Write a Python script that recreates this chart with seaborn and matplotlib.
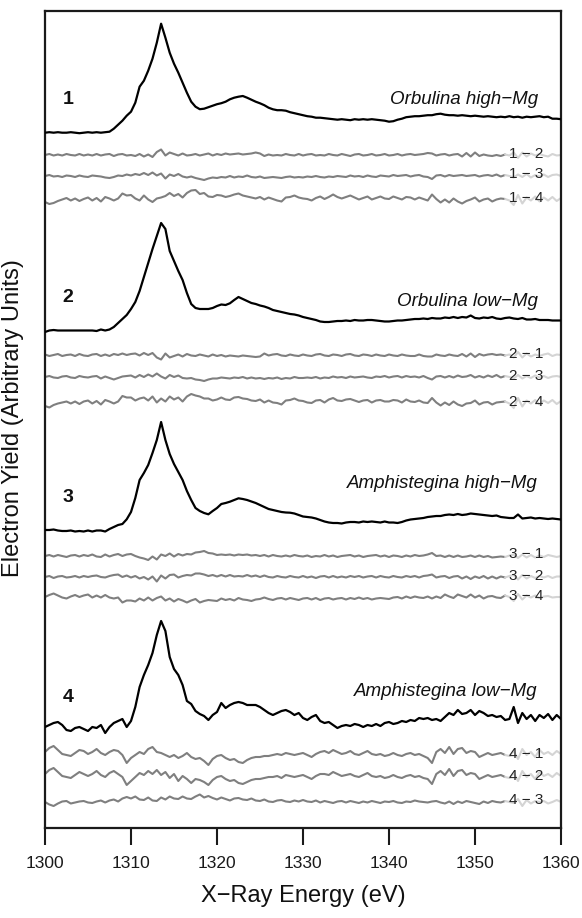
import numpy as np
import pandas as pd
import matplotlib
matplotlib.use("Agg")
import matplotlib.pyplot as plt
import seaborn as sns

# ---------------- data ----------------
energy = np.arange(1300, 1360.001, 0.5)  # eV grid, 121 points

# black spectra: height above pre-edge level (arbitrary units)
spec_1 = [0, 0.5, 0, 0.5, 0, 0, 0.5, 0, -0.5, 0,
          0.5, 0, 0.5, 0, 0.5, 1, 4, 8, 12, 17,
          21, 30, 46, 52, 62, 74, 90, 109, 95, 80,
          69, 60, 50, 40, 31, 26, 23.5, 24, 25.5, 27,
          28.5, 29.5, 31, 33.4, 35, 36, 36.7, 35, 33, 31,
          29.4, 27.5, 25, 23.4, 22.5, 22.5, 22, 20.5, 19.5, 18.5,
          17.5, 16.5, 16, 15, 15, 14.5, 14, 13.5, 13, 13.5,
          13, 12.5, 13.5, 13, 13.5, 13, 13.5, 13, 12.5, 12,
          11, 11.5, 13, 14, 15.5, 16, 16.5, 16.5, 17, 17.5,
          17.5, 18.5, 19, 18, 17.5, 17.5, 17, 17.5, 17, 16.5,
          17, 16.5, 16, 16.5, 16, 15.5, 16, 15.5, 16.5, 15.5,
          16, 15, 16, 15.5, 16, 16.5, 15.5, 16, 14, 14,
          13.5]
spec_2 = [-1, 0.5, 1, 0.5, 0.5, 0.5, 0.5, 0.5, 0.5, 0.5,
          0.5, 0.5, 0, 1.5, 0.5, 1.5, 4, 8, 12, 16,
          22, 29, 40, 54, 68, 82, 95, 108, 102, 80,
          70, 60, 51, 38, 27, 23, 22, 22, 22, 23,
          25, 26.5, 26, 27.7, 31, 34, 32, 30, 28, 27,
          25.5, 24.5, 23, 21, 20, 19, 18, 17, 16.5, 15.5,
          14, 13, 12, 11, 9.5, 9, 9, 9.5, 10, 10,
          10.5, 10, 11, 10.5, 10.5, 11, 11, 10.5, 10, 9.5,
          9.5, 10, 10.5, 10.5, 11, 11.5, 12, 12, 12.5, 12,
          13, 12.5, 12.5, 13.5, 13, 14, 13, 14, 13.5, 15.5,
          13, 12.5, 13.5, 13, 14, 12.5, 12, 13, 13.5, 12.5,
          12, 13, 11.5, 11.5, 12, 11, 11, 11, 10.5, 10.5,
          10.5]
spec_3 = [0, 0, 0.5, -0.5, -1, -1, -0.5, -1.5, -1, -1.5,
          -0.5, -1.5, -0.5, -0.5, -1.5, 1, 3, 5, 6, 10.7,
          18, 32, 50, 57, 65, 77, 90, 108, 90, 76,
          66, 58, 50, 39, 30, 22, 19, 17, 15.7, 19,
          22, 26, 27, 28.3, 30, 31.7, 31, 30, 28.5, 27,
          25, 23, 21, 20, 19, 18, 17.5, 17.3, 16.5, 15,
          13.5, 13, 12.5, 11.5, 10, 8.5, 7.5, 7, 7, 6.5,
          7.5, 8, 8, 7.5, 8.5, 8, 8.5, 8, 7.5, 8.5,
          7.5, 7.5, 7, 8, 9.5, 10.5, 11, 11.5, 12, 13,
          13.5, 14, 14, 15, 15.5, 15, 16, 15, 15.5, 16.5,
          16, 15.5, 15, 14.5, 14, 14.5, 13, 12.5, 12, 12,
          15.5, 11.5, 12, 12.5, 11.5, 12, 11.5, 11, 11.5, 11,
          10.5]
spec_4 = [0, 2, 4, 5, 2, -3, -4, -1, 0, -2,
          -4, 0, -1, 2, -6, 0, 4, 6, 8, 0,
          6, 20, 40, 52, 62, 74, 92, 106, 96, 70,
          58, 52, 42, 26, 23, 16, 13, 11, 7, 12,
          15, 24, 19, 22, 24, 25, 24, 22, 22, 22,
          20, 17, 14, 12, 14, 16, 17, 15, 12, 14,
          9, 7, 10, 12, 6, 4, 5, 2, -1, 1,
          2, 1, 3, 2, 0, 2, 1, 3, 1, 4,
          5, 3, 4, 6, 5, 7, 6, 9, 8, 9,
          7, 8, 6, 10, 14, 12, 17, 13, 14, 17,
          12, 16, 14, 11, 12, 10, 11, 7, 8, 20,
          4, 14, 8, 12, 6, 12, 9, 13, 7, 12,
          8]

# grey difference spectra (same units)
diff_1_2 = [0, 1, -0.5, 0.5, -0.5, 1, 0, -0.5, 1, -0.5,
            0.5, -0.5, 1, -0.5, 0.5, 1, -1, 0.5, 1, -0.5,
            0, -1, 1, -1.5, 0.5, -2, 3, 5.5, -0.5, 2.5,
            1, -0.5, 1.5, -0.5, 0, 1, -0.5, 0.5, 1.5, -0.5,
            1, 0, 1.5, 0.5, 1, 1.5, 0.5, 1, 1.5, 2.5,
            1.5, -1, 0.5, -0.5, 0, -0.5, 1, 0, -0.5, 1,
            -0.5, 0.5, 1, -0.5, 0, -0.5, 1, 0, -0.5, 1,
            0, -1, 0.5, 1, -0.5, 0, 1, -0.5, 0, 1,
            -0.5, 0, 1, -0.5, 0.5, 1, 0, 0.5, 1, 2,
            1.5, -0.5, 0.5, 1, -0.5, 0.5, 1, -1.5, 2, -1.5,
            2.5, -1, 0.5, -0.5, -1, 0, -1, 0.5, -0.5, 2.5,
            -3, 2.5, -1.5, 1.5, -0.5, 1, -0.5, -1.5, 1, -0.5,
            0]
diff_1_3 = [0, 1, -0.5, 0, -1, 0.5, 0, -1, 0.5, -0.5,
            -1, 0.5, 0, -0.5, -1.5, -2, -1, 0.5, 0, 1.5,
            0.5, 2, 1, 3, 1, 3.5, 0.5, 2.5, -2.5, 1.5,
            0, 2, -0.5, -1.5, -0.5, -2, -3, -4, -2.5, -1.5,
            -2, -1, -1.5, 0, -1.5, -0.5, -1, 0.5, -1, -1.5,
            -0.5, -2, -1.5, -1, -1.5, -2, -1, -0.5, -1.5, -1,
            -1.5, -0.5, -1, 0, -1, -1.5, -0.5, -1, 0, -0.5,
            -1, 0.5, -0.5, 0, -1, 0.5, -0.5, -1, 0.5, 0,
            -0.5, 1, 0, 0.5, 1, -0.5, 0.5, 1, -0.5, -1,
            -3, 0.5, 1, -0.5, 1, 0, 0.5, 1, 0, 0.5,
            1, -0.5, 0.5, 1, 0, 1.5, -0.5, 1, 0, -1.5,
            1.5, -1, 2, -1.5, 1, -0.5, 1.5, -1, 1, 1.5,
            0]
diff_1_4 = [-2, -4, -3, -1, 0.5, 2, -0.5, 1.5, -1, 1,
            2.5, -0.5, 2, -1.5, 3, 1.5, -0.5, 1.5, 6.5, 4.5,
            5, 1.5, -0.5, 4.5, 0.5, -2, 1.5, 2.5, 4, 7,
            4, 6, 2.5, 7, 9.5, 10, 6, 7, 3.5, 3,
            5, 4.5, 3, 4, 5.5, 6.5, 4.5, 3.5, 2.5, 1.5,
            3, 0.5, 2.5, 1, -0.5, -1.5, 2.5, 3, 4.5, 2.5,
            1.5, 1, -0.5, 2, 3.5, 1, 3, 5.5, 3, 1.5,
            3, 4.5, 2.5, 0.5, 2, 3.5, 0.5, 2, 3.5, 1.5,
            1, 3.5, 2, 0.5, 3, 2.5, 0.5, 2.5, 1, -0.5,
            5.5, 1, -2.5, 0.5, -2.5, 1.5, -1.5, -3.5, -1, 0.5,
            2.5, -1.5, 0.5, 1.5, -1.5, 0.5, 1.5, 1, -0.5, -5,
            5, -3.5, 2.5, -0.5, 3.5, -1.5, 2.5, -0.5, 3, -1,
            2]
diff_2_1 = [0.5, -1, 0, 1, -1, 0, 0.5, -1, 1, -0.5,
            -1, 0.5, 1, -1, 0.5, -1, 1, 0, 1.5, 0,
            1, 1.5, -0.5, 2, 0, 2, -2.5, -4.5, 1.5, -2.5,
            -1, 0.5, -1.5, 1, -0.5, -1, 0.5, -0.5, -1.5, 0.5,
            -1, 0, -1.5, -0.5, -1, -1.5, -0.5, -1, -1.5, -2,
            -1.5, 1.5, -0.5, 0.5, 1, -0.5, -1, 0.5, -0.5, -1,
            0.5, -0.5, -1, 0.5, 1, -0.5, -1, 0.5, 0, -1,
            0.5, 1, -0.5, -1, 0.5, 0, -1, 0.5, -0.5, -1,
            0.5, -0.5, -1, 0.5, -0.5, -1, -1, 0.5, -1, -1.5,
            -1.5, 0.5, -0.5, -1, 0.5, -0.5, -1, 1, -1.5, 1.5,
            -2, 1, -0.5, 0.5, 1, 0, 0.5, -0.5, 0.5, -2.5,
            3, -2.5, 1.5, -1.5, 0.5, -1, 0.5, 1.5, -1, 0.5,
            0]
diff_2_3 = [0, 1, -0.5, -1, 0.5, 1, -0.5, -1, 1, 0,
            -0.5, 0.5, 1, -1.5, 0.5, -1, -2.5, -1, 0.5, 1,
            1.5, -0.5, 2, 0, 2.5, 0.5, 3.5, 0.5, -1.5, 2,
            0, 1.5, -1, -1.5, -1, -2.5, -3, -4, -2.5, -1.5,
            -1.5, -0.5, -1, -1.5, -0.5, -1, 0, -1.5, -0.5, -1.5,
            -1, -2, -1, -1.5, -0.5, -2, -1, -1.5, 0, -1,
            -1, -0.5, -1, 0, -1.5, -0.5, -1, 0.5, -0.5, 0,
            -1, 0.5, -0.5, 0, 0.5, -0.5, -1, 0.5, 0, 1,
            -0.5, 0.5, 1, -0.5, 1, 0, 0.5, -0.5, 1, -1,
            -2.5, 0.5, 1, -0.5, 1, -0.5, 1.5, 0, 0.5, 2,
            -0.5, 1, -0.5, 1.5, 0, 2, -0.5, 1, 0, -1.5,
            2, -1.5, 1, -1, 1.5, -0.5, 1, -1, 0.5, 1,
            0]
diff_2_4 = [-3, -4.5, -2, -0.5, 0.5, 1.5, -0.5, 1.5, -1, 1.5,
            2.5, -0.5, 2, -1.5, 3, 1.5, -0.5, 1.5, 7, 5.5,
            5.5, 2.5, 4.5, 5.5, 2.5, 6.5, 0.5, 4.5, 1.5, 6.5,
            3.5, 5.5, 1.5, 6.5, 9, 7.5, 6.5, 4.5, 4.5, 2.5,
            3.5, 5.5, 3.5, 3, 5.5, 6, 4.5, 4, 2.5, 2,
            3.5, 0.5, 2.5, 0.5, 0, -1.5, 2.5, 3, 4.5, 2.5,
            2, 0.5, 0, 2.5, 3, 0.5, 3.5, 5, 2.5, 2,
            3.5, 4, 2.5, 1, 2.5, 3, 0.5, 2.5, 3, 1.5,
            1.5, 3, 2.5, 0.5, 3.5, 1.5, 1, 2.5, 0.5, 0,
            5, 0.5, -2.5, 0.5, -2, 1.5, -1.5, -3, -0.5, 0,
            2.5, -1.5, 0.5, 1, -1.5, 0.5, 1, 1.5, -0.5, -5,
            5, -3.5, 2.5, -0.5, 3, -1.5, 2.5, 0, 3, -1,
            2]
diff_3_1 = [0, 1, -0.5, 1, 0, -1, 0.5, 1, -0.5, 1,
            0, 1.5, -0.5, -1, 1.5, -0.5, 1, 2, 0, 1.5,
            2, 0, -1.5, -2.5, -4, -0.5, -3.5, 1.5, 0, 2.5,
            -0.5, 2, 0.5, 2, 1.5, 3.5, 4, 5, 3, 2.5,
            1, 1.5, 1, 1.5, 0.5, 1.5, 1, 1.5, 0.5, 1,
            0, 1, -0.5, 1, 0, -0.5, 0.5, -0.5, 1, 0,
            -0.5, 0.5, -1, 0, -0.5, 1, -0.5, 0.5, -1, 0,
            0.5, 1, -0.5, 0.5, -1, 0, 0.5, 1, -0.5, 0.5,
            -1, 0.5, 0, -1, 0.5, -0.5, 1, 0, 0.5, 1.5,
            3, 0, 0.5, -1, 0.5, -1, 0.5, -1, -0.5, 0.5,
            -1, 0.5, -1, 0, -1.5, -1, -0.5, -1, 0.5, 1.5,
            -2, 1.5, -1.5, 1, -1.5, 0.5, -1, 1, 0, -1,
            0]
diff_3_2 = [0, 1, -1, 0.5, 1, -0.5, 0, 1, -0.5, 1,
            0, 1, 1.5, 0, -0.5, 1, 2, 2.5, 0, 1.5,
            -0.5, 1, -1.5, 0, -2.5, 0.5, -4.5, 1.5, -1.5, 2,
            2.5, -0.5, 1, 2, 1.5, 3.5, 3.5, 2.5, 1, 2,
            0.5, 2, 0.5, 2, 0.5, 1, 0.5, 2, 0.5, 1.5,
            0, 1.5, 0, -0.5, 1, 0, -0.5, 1, 0, -0.5,
            1, -0.5, 0.5, -1, 0.5, 1, -0.5, 1, -0.5, 0.5,
            -0.5, 1, 0, 1, -0.5, 0.5, 1, -0.5, 1, 0,
            -0.5, 1, 0, -0.5, 1, 0, 1, -0.5, 1, 1.5,
            2.5, -0.5, 0.5, 1, -1, 0.5, 1, -1.5, 0.5, -2,
            0.5, -1, 1, -1.5, 0.5, -1.5, 0.5, -0.5, 1, 2,
            -2.5, 2, -1.5, 1, -1, 1, -0.5, 1, -1, 0.5,
            0.5]
diff_3_4 = [0, 2, 3.5, 1.5, -0.5, -1.5, 0.5, 2, 0, 1.5,
            2.5, -0.5, 1.5, -0.5, 2, -0.5, -1.5, -0.5, -5.5, -3.5,
            -3.5, -4.5, -1.5, -3.5, -0.5, -3.5, -1, 0.5, -3.5, -1.5,
            -4.5, -2, -3.5, -5.5, -3.5, -2, -5.5, -4, -3, -3.5,
            -4, -1.5, -3, -2, -3.5, -1, -2.5, -3, -4, -2.5,
            -2, -0.5, -2, -3, -1.5, -1, -2.5, -1, -2, -3,
            -1.5, -1, -2.5, -1, -3, -1.5, -1, -2.5, -1.5, -1,
            -2.5, -1, -2, -0.5, -2, -1, -2.5, -1.5, -1, -1.5,
            -2, -0.5, 0, -1.5, 0.5, -1, 0.5, -0.5, -1, 0.5,
            -1.5, 0.5, -1, 2.5, 0.5, -1, 2.5, 1, -0.5, 2.5,
            -0.5, 1.5, -1.5, 0.5, 1, -0.5, -1, 1.5, 0, -4,
            3, -2.5, 1.5, -0.5, 1.5, -1, 0.5, 1, -0.5, 0,
            0]
diff_4_1 = [3, 7, 9, 5, 1, 0, -1, 2, 5, 4,
            1, 3, 6, 2, 0, 3, 5, 4, 0, -8,
            -3, 0, 3, 1, 6, 8, 3, 2, 0, -2,
            0, -3, -1, 2, -2, -4, -3, -6, -10, -4,
            -1, 0, -3, -5, -4, -7, -8, -5, -3, -2,
            -2, -1, -1, 0, 1, 0, 2, 1, 0, 1,
            2, 0, -2, 1, 3, 4, 2, 5, 3, 1,
            2, 4, 1, 0, 2, 4, 1, 0, 1, -1,
            0, 2, 0, -1, 1, 2, 0, 1, -1, -3,
            -8, 3, 6, 2, 8, 1, 6, 7, 2, 4,
            3, -2, 0, 2, 0, 1, 2, 0, -1, 4,
            -4, 6, 0, 3, -2, 5, 1, 3, 0, 4,
            1]
diff_4_2 = [3, 7, 9, 5, 1, 0, -1, 2, 5, 3,
            1, 3, 6, 2, 0, 4, 6, 3, 0, -8,
            -4, 0, 4, 2, 6, 3, 7, 2, 5, -1,
            3, -4, 1, -2, -6, -2, -3, -5, -8, -3,
            0, 1, -2, -4, -3, -6, -7, -5, -3, -2,
            -2, -1, 0, 0, 1, -1, 2, 1, 0, 1,
            2, 0, -2, 1, 3, 3, 2, 5, 3, 1,
            2, 3, 1, 0, 2, 4, 1, 0, 1, -1,
            0, 2, 0, -1, 1, 2, 0, 1, -1, -2,
            -7, 3, 6, 2, 8, 1, 6, 7, 2, 4,
            3, -2, 0, 2, 0, 1, 2, 0, -1, 4,
            -4, 6, 0, 3, -2, 5, 1, 3, 0, 4,
            1]
diff_4_3 = [0, -2.5, -4, -1.5, 0.5, 1, -1.5, -0.5, 0.5, 1,
            -0.5, -1, 0.5, 1.5, -0.5, 1.5, 2.5, 0.5, 3.5, 5,
            3.5, 5.5, 2.5, 2, 4.5, 1.5, 1, 4.5, 2.5, 5.5,
            3.5, 3, 5.5, 3.5, 3, 5.5, 7.5, 4.5, 6, 4,
            2.5, 4.5, 3, 1.5, 3.5, 4, 2.5, 2, 3.5, 1.5,
            1, 2.5, 0.5, 0, 1.5, 2, 0.5, 0, 1.5, 0.5,
            2, 0.5, 0, 1.5, -0.5, 1, 0, -1, 0.5, 1,
            -0.5, 1, 0, -1, 0.5, -0.5, 1, 0, -1, 0.5,
            0, 1, -0.5, -1, 0.5, 0, 1.5, 0.5, 0, -0.5,
            0.5, 1, -0.5, -1.5, 0.5, -2, 0.5, -1, 1, 0,
            -1, -2, 0.5, -1, 1, 0, -0.5, 1, 0, -1,
            3, -4, 2, -1.5, 1, 0, 1, -1.5, 0, 2,
            0]

panel_numbers = ["1", "2", "3", "4"]
sample_names = ["Orbulina high\u2212Mg", "Orbulina low\u2212Mg",
                "Amphistegina high\u2212Mg", "Amphistegina low\u2212Mg"]
spectra = [spec_1, spec_2, spec_3, spec_4]
diffs = [[diff_1_2, diff_1_3, diff_1_4],
         [diff_2_1, diff_2_3, diff_2_4],
         [diff_3_1, diff_3_2, diff_3_4],
         [diff_4_1, diff_4_2, diff_4_3]]
diff_labels = [["1 \u2212 2", "1 \u2212 3", "1 \u2212 4"],
               ["2 \u2212 1", "2 \u2212 3", "2 \u2212 4"],
               ["3 \u2212 1", "3 \u2212 2", "3 \u2212 4"],
               ["4 \u2212 1", "4 \u2212 2", "4 \u2212 3"]]

# ---------------- layout (vertical stacking offsets) ----------------
Y_TOP = 828.0
spec_offsets = [Y_TOP - p for p in (132.7, 331, 530, 727)]
diff_offsets = [[Y_TOP - p for p in row] for row in
                ((155, 176, 200), (355, 377, 403), (556, 577, 597), (755, 777, 802))]
name_y = [Y_TOP - p for p in (100, 301, 483, 692)]
number_y = [Y_TOP - p for p in (99, 298, 498, 698)]
TAIL_START = 1353.5

# ---------------- style ----------------
sns.set_style("ticks")
plt.rcParams["font.family"] = ["Liberation Sans", "DejaVu Sans"]

fig = plt.figure(figsize=(5.82, 9.18), dpi=100)
ax = fig.add_axes([45 / 582, 1 - 828 / 918, 516 / 582, 817.3 / 918])

dark_grey = "#7f7f7f"
light_grey = "#d4d4d4"

for i in range(4):
    y = np.asarray(spectra[i], dtype=float) + spec_offsets[i]
    sns.lineplot(x=energy, y=y, ax=ax, color="black", linewidth=1.6,
                 estimator=None, sort=False, zorder=3)
    for j in range(3):
        d = np.asarray(diffs[i][j], dtype=float) + diff_offsets[i][j]
        main = energy <= TAIL_START
        tail = energy >= TAIL_START
        sns.lineplot(x=energy[main], y=d[main], ax=ax, color=dark_grey,
                     linewidth=1.5, estimator=None, sort=False, zorder=2)
        sns.lineplot(x=energy[tail], y=d[tail], ax=ax, color=light_grey,
                     linewidth=1.5, estimator=None, sort=False, zorder=2)
        ax.text(1357.9, diff_offsets[i][j] + 1.5, diff_labels[i][j],
                ha="right", va="center", fontsize=11, color="#222222", zorder=5)
    ax.text(1302.7, number_y[i], panel_numbers[i], ha="center", va="center",
            fontsize=14, fontweight="bold", color="#111111")
    ax.text(1357.3, name_y[i], sample_names[i], ha="right", va="center",
            fontsize=13.5, style="italic", color="#111111")

ax.set_xlim(1300, 1360)
ax.set_ylim(0, 817.3)
ax.set_xticks(np.arange(1300, 1361, 10))
ax.set_yticks([])
ax.set_xlabel("")
ax.set_ylabel("")
for s in ax.spines.values():
    s.set_visible(True)
    s.set_linewidth(1.6)
    s.set_color("#1a1a1a")
ax.tick_params(axis="x", direction="out", length=12, width=1.5, pad=8,
               labelsize=12.5, colors="#1a1a1a")

fig.text(303 / 582, 1 - 896 / 918, "X\u2212Ray Energy (eV)", ha="center",
         va="center", fontsize=17, color="#111111")
fig.text(13 / 582, 1 - 418 / 918, "Electron Yield (Arbitrary Units)",
         ha="center", va="center", rotation=90, fontsize=17, color="#111111")

fig.savefig("out.png", dpi=100)
